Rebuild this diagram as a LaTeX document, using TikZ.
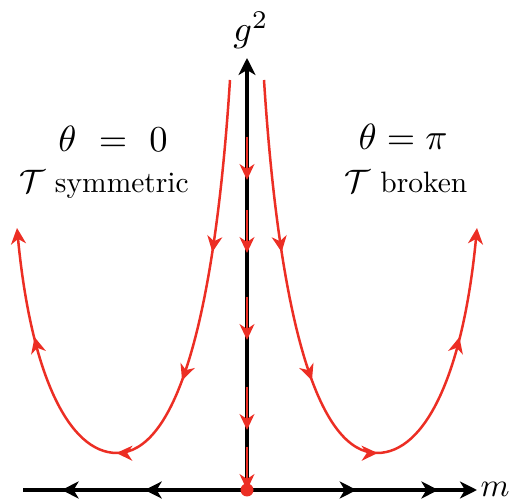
\documentclass[tikz,border=0pt]{standalone}
\usetikzlibrary{arrows.meta,decorations.markings}
\definecolor{flow}{RGB}{236,46,36}
\begin{document}
\begin{tikzpicture}[x=1pt,y=-1pt,
  axisline/.style={line width=4.4pt, black},
  blacktip/.tip={Stealth[length=17pt,width=17pt,inset=5pt]},
  redtip/.tip={Stealth[length=16pt,width=15pt,inset=5pt]},
  txtlbl/.style={inner sep=0pt, scale=2.95},
  mathlbl/.style={inner sep=0pt, scale=3.65},
  flowseg/.style={draw=flow, line width=1.6pt, -redtip},
  flowcurve/.style={draw=flow, line width=2.5pt, -redtip,
    postaction={decorate},
    decoration={markings,
      mark=at position 0.258 with {\arrow{redtip}},
      mark=at position 0.455 with {\arrow{redtip}},
      mark=at position 0.61 with {\arrow{redtip}},
      mark=at position 0.835 with {\arrow{redtip}}}},
  haxis/.style={axisline, -blacktip,
    postaction={decorate},
    decoration={markings,
      mark=at position 0.085 with {\arrowreversed{blacktip}},
      mark=at position 0.268 with {\arrowreversed{blacktip}},
      mark=at position 0.735 with {\arrow{blacktip}},
      mark=at position 0.915 with {\arrow{blacktip}}}}
]
\useasboundingbox (0,0) rectangle (515,502);

\coordinate (O) at (247,490);
\coordinate (Ytop) at (247,58);
\coordinate (Xl) at (23,490);
\coordinate (Xr) at (477,490);

% axes
\draw[haxis] (Xl) -- (Xr);
\draw[axisline, -blacktip] (O) -- (Ytop);

% flow along the g^2 axis
\coordinate (v1a) at (247,137); \coordinate (v1b) at (247,180);
\coordinate (v2a) at (247,210); \coordinate (v2b) at (247,253);
\coordinate (v3a) at (247,297); \coordinate (v3b) at (247,340);
\coordinate (v4a) at (247,387); \coordinate (v4b) at (247,430);
\coordinate (v5a) at (247,447); \coordinate (v5b) at (247,490);
\draw[flowseg] (v1a) -- (v1b);
\draw[flowseg] (v2a) -- (v2b);
\draw[flowseg] (v3a) -- (v3b);
\draw[flowseg] (v4a) -- (v4b);
\draw[flowseg] (v5a) -- (v5b);

% right flow curve and its mirror image on the left
\coordinate (rs) at (264,80);
\coordinate (rb) at (377,453);
\coordinate (re) at (477,228);
\draw[flowcurve] (rs) .. controls (280,330) and (320,453) .. (rb)
                      .. controls (425,453) and (463,375) .. (re);
\begin{scope}[xshift=494pt, xscale=-1]
\coordinate (ls) at (264,80);
\coordinate (lb) at (377,453);
\coordinate (le) at (477,228);
\draw[flowcurve] (ls) .. controls (280,330) and (320,453) .. (lb)
                      .. controls (425,453) and (463,375) .. (le);
\end{scope}

\fill[flow] (O) circle (6.5pt);

% labels
\node[mathlbl, anchor=base] (g2) at (251,42) {$g^2$};
\node[inner sep=0pt, scale=3.3, anchor=base west] (mlab) at (480,497) {$m$};
\node[mathlbl, anchor=base] (th0) at (113,152) {$\theta\ =\ 0$};
\node[txtlbl, anchor=base] (sym) at (104,193) {\scalebox{1.1}{$\mathcal{T}$} symmetric};
\node[mathlbl, anchor=base] (thpi) at (403,150) {$\theta=\pi$};
\node[txtlbl, anchor=base] (brk) at (406,193) {\scalebox{1.1}{$\mathcal{T}$} broken};
\end{tikzpicture}
\end{document}
